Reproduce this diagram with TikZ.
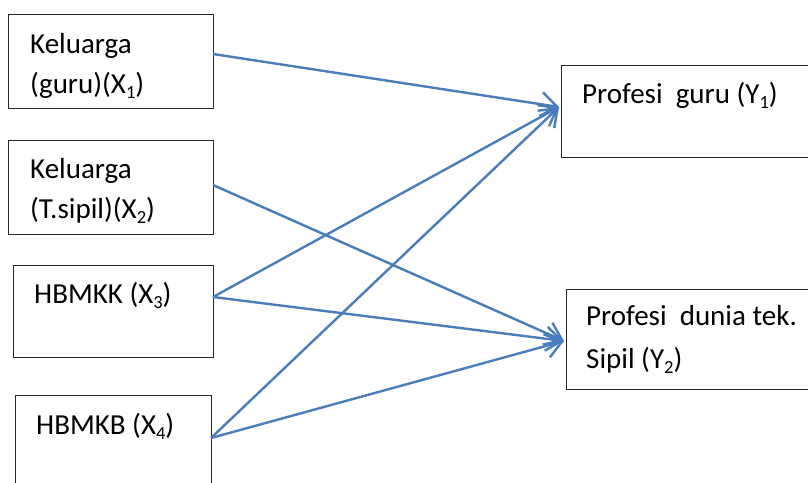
\documentclass[tikz,border=0pt]{standalone}
\usepackage{fontspec}
\setmainfont{Carlito}
\usetikzlibrary{arrows.meta}
\definecolor{linkblue}{RGB}{74,126,187}
\newcommand{\idx}[1]{\raisebox{-0.18em}{\fontsize{18.5}{18.5}\selectfont #1}}
\tikzset{
  varbox/.style={draw=black!85, line width=1.4pt, inner sep=0pt, anchor=north west},
  label text/.style={inner sep=0pt, anchor=base west, font=\fontsize{29}{34}\selectfont},
  link/.style={draw=linkblue, line width=2.4pt,
    -{Straight Barb[length=16pt,width=24pt,line width=2.4pt]}}
}
\begin{document}
\begin{tikzpicture}[x=1pt,y=-1pt]
  \clip (0,0) rectangle (808,482);
  \fill[white] (0,0) rectangle (808,482);

  % variable boxes
  \node[varbox, minimum width=205pt, minimum height=94pt] (x1) at (8,14) {};
  \node[varbox, minimum width=205pt, minimum height=94pt] (x2) at (8,140) {};
  \node[varbox, minimum width=200pt, minimum height=92pt] (x3) at (13,265) {};
  \node[varbox, minimum width=196pt, minimum height=110pt] (x4) at (15,395) {};
  \node[varbox, minimum width=260pt, minimum height=92pt] (y1) at (561,65) {};
  \node[varbox, minimum width=260pt, minimum height=100pt] (y2) at (566,289) {};

  % box texts
  \node[label text] (t1a) at (30,53) {Keluarga};
  \node[label text] (t1b) at (30,93) {(guru)(X\idx{1})};
  \node[label text] (t2a) at (30,178) {Keluarga};
  \node[label text] (t2b) at (30,218) {(T.sipil)(X\idx{2})};
  \node[label text] (t3) at (34,303) {HBMKK (X\idx{3})};
  \node[label text] (t4) at (36,434) {HBMKB (X\idx{4})};
  \node[label text] (t5) at (582,103) {Profesi\ \ guru (Y\idx{1})};
  \node[label text] (t6a) at (586,325) {Profesi\ \ dunia tek.};
  \node[label text] (t6b) at (586,368) {Sipil (Y\idx{2})};

  % connector ends on the box sides
  \coordinate (x1out) at (213,54);
  \coordinate (x2out) at (213,185);
  \coordinate (x3out) at (213,297);
  \coordinate (x4out) at (211,438);
  \coordinate (y1in) at (559,107);
  \coordinate (y2in) at (564,341);

  % paths
  \draw[link] (x1out) -- (y1in);
  \draw[link] (x2out) -- (y2in);
  \draw[link] (x3out) -- (y1in);
  \draw[link] (x3out) -- (y2in);
  \draw[link] (x4out) -- (y1in);
  \draw[link] (x4out) -- (y2in);
\end{tikzpicture}
\end{document}
